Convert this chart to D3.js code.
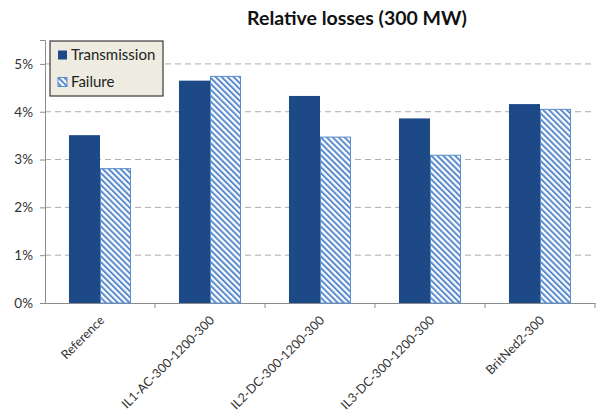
<!DOCTYPE html>
<html>
<head>
<meta charset="utf-8">
<script src="https://cdn.jsdelivr.net/npm/d3@7"></script>
<style>
  html, body { margin: 0; padding: 0; background: #fff; }
  svg { display: block; font-family: Lato, "Open Sans", sans-serif; }
</style>
</head>
<body>
<svg id="chart" width="596" height="414"></svg>
<script>
// Relative losses per case, in percent
const categories = ["Reference", "IL1-AC-300-1200-300", "IL2-DC-300-1200-300", "IL3-DC-300-1200-300", "BritNed2-300"];
const seriesNames = ["Transmission", "Failure"];
const transmission = [3.51, 4.65, 4.33, 3.86, 4.16];
const failure = [2.82, 4.75, 3.48, 3.10, 4.06];
const yTicks = [0, 1, 2, 3, 4, 5];
const chartTitle = "Relative losses (300 MW)";

const svg = d3.select("#chart");
const margin = { left: 45, right: 1, top: 40, bottom: 111 };
const W = 596, H = 414;

const x = d3.scaleBand().domain(categories).range([margin.left, W - margin.right]).paddingInner(0.436).paddingOuter(0.218);
const xs = d3.scaleBand().domain(seriesNames).range([0, x.bandwidth()]);
const y = d3.scaleLinear().domain([0, 5.5]).range([H - margin.bottom, margin.top]);

// hatch pattern for the Failure series (stripes running down to the right)
const defs = svg.append("defs");
const pat = defs.append("pattern")
  .attr("id", "hatch").attr("patternUnits", "userSpaceOnUse")
  .attr("width", 4.2).attr("height", 4.2)
  .attr("patternTransform", "rotate(-45)");
pat.append("rect").attr("width", 4.2).attr("height", 4.2).attr("fill", "#fff");
pat.append("rect").attr("width", 2).attr("height", 4.2).attr("fill", "#5a8ccb");

// title
svg.append("text").attr("x", 357).attr("y", 25).attr("text-anchor", "middle")
  .attr("font-size", 19.5).attr("font-weight", "bold").attr("fill", "#111").text(chartTitle);

// gridlines
svg.append("g").selectAll("line").data(yTicks.filter(d => d > 0)).join("line")
  .attr("x1", margin.left).attr("x2", W - margin.right)
  .attr("y1", d => y(d)).attr("y2", d => y(d))
  .attr("stroke", "#adadad").attr("stroke-width", 1).attr("stroke-dasharray", "6,4");

// y axis
const yAxis = svg.append("g").attr("transform", `translate(${margin.left},0)`)
  .call(d3.axisLeft(y).tickValues(yTicks).tickFormat(d => d + "%").tickSize(5).tickPadding(7));
yAxis.select(".domain").attr("stroke", "#8c8c8c");
yAxis.selectAll(".tick line").attr("stroke", "#8c8c8c");
yAxis.selectAll(".tick text").attr("font-size", 13.5).attr("fill", "#333").attr("font-family", "Lato, sans-serif");

// x axis
const xAxis = svg.append("g").attr("transform", `translate(0,${y(0)})`)
  .call(d3.axisBottom(x).tickSize(0).tickPadding(0));
xAxis.select(".domain").attr("stroke", "#8c8c8c");
xAxis.selectAll(".tick text")
  .attr("font-size", 12.5).attr("fill", "#333").attr("font-family", "Lato, sans-serif")
  .attr("text-anchor", "end").attr("y", 0).attr("dy", "0.35em")
  .attr("transform", "translate(2,15) rotate(-45)");
// category boundary ticks
const bounds = categories.map(c => x(c) - x.step() * x.paddingInner() / 2 + x.step());
svg.append("g").selectAll("line").data(bounds).join("line")
  .attr("x1", d => d).attr("x2", d => d).attr("y1", y(0)).attr("y2", y(0) + 5)
  .attr("stroke", "#8c8c8c");

// bars
const groups = svg.append("g").selectAll("g").data(categories).join("g")
  .attr("transform", d => `translate(${x(d)},0)`);
groups.append("rect")
  .attr("x", xs("Transmission")).attr("width", xs.bandwidth())
  .attr("y", (d, i) => y(transmission[i])).attr("height", (d, i) => y(0) - y(transmission[i]))
  .attr("fill", "#1d4a87");
groups.append("rect")
  .attr("x", xs("Failure") + 0.5).attr("width", xs.bandwidth() - 1)
  .attr("y", (d, i) => y(failure[i]) + 0.5).attr("height", (d, i) => y(0) - y(failure[i]) - 0.5)
  .attr("fill", "url(#hatch)").attr("stroke", "#5a8ccb").attr("stroke-width", 1);

// legend
const lg = svg.append("g").attr("transform", "translate(50,41)");
lg.append("rect").attr("width", 113).attr("height", 55)
  .attr("fill", "#eeebe1").attr("stroke", "#3a3a3a").attr("stroke-width", 1.2);
const swFill = ["#1d4a87", "url(#hatch)"];
seriesNames.forEach((s, i) => {
  const yy = 14 + i * 27;
  lg.append("rect").attr("x", 8).attr("y", yy - 4.5).attr("width", 9).attr("height", 9)
    .attr("fill", swFill[i]).attr("stroke", i ? "#5a8ccb" : "none");
  lg.append("text").attr("x", 21).attr("y", yy).attr("dy", "0.36em")
    .attr("font-size", 15).attr("fill", "#222").text(s);
});
</script>
</body>
</html>
